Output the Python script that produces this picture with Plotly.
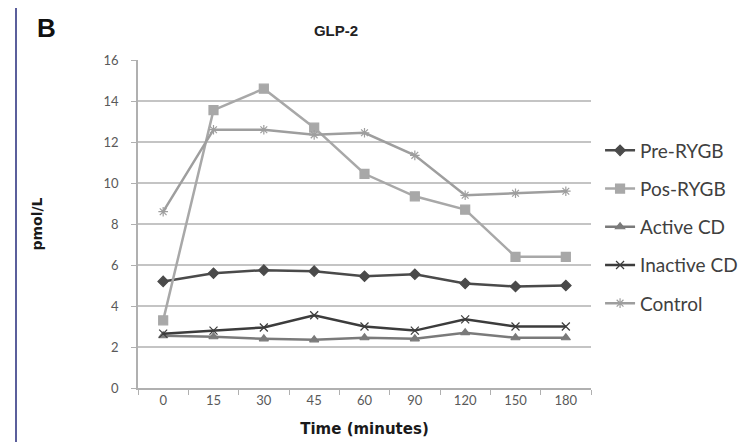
import plotly.graph_objects as go

times = ["0", "15", "30", "45", "60", "90", "120", "150", "180"]
pre_rygb = [5.2, 5.6, 5.75, 5.7, 5.45, 5.55, 5.1, 4.95, 5.0]
pos_rygb = [3.3, 13.55, 14.6, 12.7, 10.45, 9.35, 8.7, 6.4, 6.4]
active_cd = [2.55, 2.5, 2.4, 2.35, 2.45, 2.4, 2.7, 2.45, 2.45]
inactive_cd = [2.65, 2.8, 2.95, 3.55, 3.0, 2.8, 3.35, 3.0, 3.0]
control = [8.6, 12.6, 12.6, 12.35, 12.45, 11.35, 9.4, 9.5, 9.6]

series = [
    ("Pre-RYGB", pre_rygb, "#4a4a4a", "diamond", 8),
    ("Pos-RYGB", pos_rygb, "#a8a8a8", "square", 9),
    ("Active CD", active_cd, "#7a7a7a", "triangle-up", 8),
    ("Inactive CD", inactive_cd, "#3c3c3c", "x-thin", 8),
    ("Control", control, "#9e9e9e", "asterisk", 8),
]

fig = go.Figure()
for i, (name, vals, col, sym, sz) in enumerate(series):
    fig.add_trace(go.Scatter(
        x=times, y=vals, name=name, mode="lines+markers",
        legendgroup=f"g{i}",
        line=dict(color=col, width=2.5),
        marker=dict(symbol=sym, size=sz, color=col,
                    line=dict(color=col, width=1.2)),
    ))

fig.update_layout(
    width=748, height=442,
    margin=dict(l=130, r=165, t=52, b=62),
    paper_bgcolor="white", plot_bgcolor="white",
    font=dict(family="Lato, Open Sans, sans-serif", color="#595959"),
    showlegend=True,
    legend=dict(
        x=1.02, y=0.782, xanchor="left", yanchor="top",
        font=dict(size=19, color="#404040", family="Lato, sans-serif"),
        tracegroupgap=10.5, itemwidth=30,
        bgcolor="rgba(0,0,0,0)",
    ),
    title=dict(text="<b>GLP-2</b>", x=328 / 748, xanchor="center",
               y=1 - 23 / 442, yanchor="middle",
               font=dict(family="Liberation Sans, Arial, sans-serif", size=15, color="#222222")),
)

fig.update_xaxes(
    type="category", categoryorder="array", categoryarray=times,
    showline=True, linecolor="#b0b0b0", linewidth=1.5,
    ticks="outside", tickson="boundaries", ticklen=5, tickcolor="#b0b0b0",
    showgrid=False, tickfont=dict(size=13, color="#595959"),
    title=dict(text="<b>Time (minutes)</b>", standoff=16,
               font=dict(family="DejaVu Sans, sans-serif", size=15, color="#1a1a1a")),
    range=[-0.5, 8.5],
)
fig.update_yaxes(
    range=[0, 16], dtick=2, tick0=0,
    showline=True, linecolor="#b0b0b0", linewidth=1.5,
    ticks="outside", ticklen=5, tickcolor="#b0b0b0",
    ticksuffix="\u00a0\u00a0\u00a0",
    showgrid=True, gridcolor="#c4c4c4", gridwidth=2,
    zeroline=False,
    tickfont=dict(size=13, color="#595959"),
    title=dict(text="<b>pmol/L</b>", standoff=58,
               font=dict(family="DejaVu Sans, sans-serif", size=14, color="#1a1a1a")),
)

# panel letter
fig.add_annotation(text="<b>B</b>", xref="paper", yref="paper",
                   x=(38 - 130) / 453, y=(380 - 20) / 328,
                   xanchor="center", yanchor="middle", showarrow=False,
                   font=dict(family="Liberation Sans, Arial, sans-serif", size=26, color="#111111"))
# left frame line
fig.add_shape(type="line", xref="paper", yref="paper",
              x0=(8 - 130) / 453, x1=(8 - 130) / 453,
              y0=(380 - 0) / 328, y1=(380 - 442) / 328,
              line=dict(color="#5b5f9c", width=2))

fig.write_html("out.html")
